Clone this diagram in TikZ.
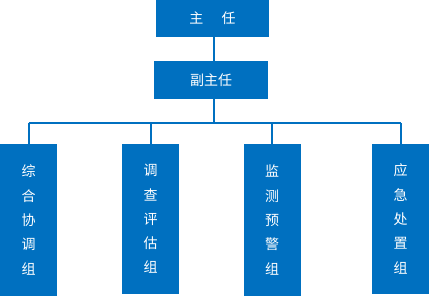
\documentclass[tikz,border=0pt]{standalone}
\usepackage{fontspec}
\newfontfamily\cjk{Noto Sans CJK SC}
\definecolor{orgblue}{RGB}{0, 112, 192}
\usetikzlibrary{positioning,calc}

\tikzset{
    headbox/.style={rectangle,fill=orgblue,text=white,inner sep=0pt,minimum width=113pt,minimum height=37pt,font=\cjk\fontsize{14}{16}\selectfont},
    groupbox/.style={rectangle,fill=orgblue,text=white,inner sep=0pt,minimum width=57pt,align=center,font=\cjk\fontsize{14}{24.3}\selectfont},
    link/.style={draw=orgblue,line width=2pt}
}

\begin{document}
\begin{tikzpicture}[x=1pt,y=-1pt]
    \useasboundingbox (0,0) rectangle (429,296);

    \node[headbox] (zhuren) at (212.5,18.5) {\raisebox{-6pt}{主\hspace{1.3em}任}};
    \node[headbox,minimum width=114pt,minimum height=37.5pt] (fuzhuren) at (211,80) {\raisebox{-6pt}{副主任}};
    \coordinate (bus) at (213.5,123.5);

    \node[groupbox,minimum height=152pt] (zonghe) at (28.5,220) {综\\合\\协\\调\\组};
    \node[groupbox,minimum height=150pt] (diaocha) at (150.5,219) {调\\查\\评\\估\\组};
    \node[groupbox,minimum height=152pt] (jiance) at (272,220) {监\\测\\预\\警\\组};
    \node[groupbox,minimum height=150pt] (yingji) at (400.5,219) {应\\急\\处\\置\\组};

    \draw[link] (zhuren.south -| bus) -- (fuzhuren.north -| bus);
    \draw[link] (fuzhuren.south -| bus) -- (bus);
    \draw[link] (zonghe.north |- bus) -- (yingji.north |- bus);
    \foreach \g in {zonghe,diaocha,jiance,yingji}
        \draw[link] (\g.north |- bus) -- (\g.north);
\end{tikzpicture}
\end{document}
